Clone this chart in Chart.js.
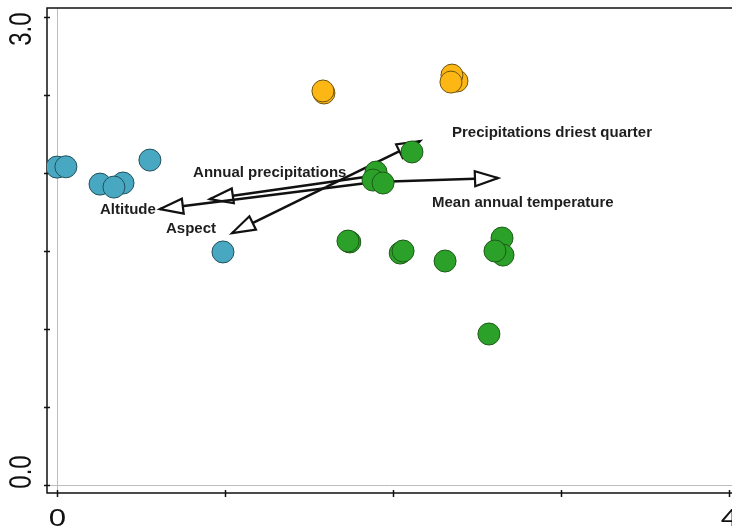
<!DOCTYPE html>
<html>
<head>
<meta charset="utf-8">
<script src="https://cdn.jsdelivr.net/npm/chart.js@4"></script>
<style>
  html, body { margin: 0; padding: 0; background: #fff; }
  #wrap { width: 732px; height: 530px; position: relative; }
</style>
</head>
<body>
<div id="wrap"><canvas id="biplot"></canvas></div>
<script>
// axis ticks
const xTicks = [0, 1, 2, 3, 4];
const xTickLabels = ['0', '', '', '', '4'];
const yTicks = [0, 0.5, 1, 1.5, 2, 2.5, 3];
const yTickLabels = ['0.0', '', '', '', '', '', '3.0'];

// sites, three groups
const blueX = [-0.003, 0.05, 0.55, 0.253, 0.39, 0.336, 0.985];
const blueY = [2.038, 2.04, 2.083, 1.929, 1.936, 1.91, 1.494];
const orangeX = [1.586, 1.58, 2.378, 2.348, 2.342];
const orangeY = [2.513, 2.526, 2.59, 2.628, 2.583];
const greenX = [2.11, 1.896, 1.878, 1.938, 1.74, 1.729, 2.04, 2.057, 2.307, 2.646, 2.652, 2.604, 2.568];
const greenY = [2.135, 2.006, 1.955, 1.936, 1.558, 1.564, 1.487, 1.5, 1.436, 1.583, 1.474, 1.5, 0.968];

// environmental vectors (data units)
const arrowNames = ['Mean annual temperature', 'Altitude', 'Annual precipitations', 'Aspect', 'Precipitations driest quarter'];
const arrowFromX = [1.89, 1.89, 1.872, 1.598, 1.598];
const arrowFromY = [1.942, 1.942, 1.981, 1.91, 1.91];
const arrowToX = [2.622, 0.61, 0.908, 1.039, 2.158];
const arrowToY = [1.968, 1.769, 1.833, 1.615, 2.205];
// where each vector's name sits (left edge, middle)
const labelX = [2.229, 0.253, 0.807, 0.646, 2.348];
const labelY = [1.808, 1.763, 2.0, 1.641, 2.256];

const toPoints = (xs, ys) => xs.map((v, i) => ({ x: v, y: ys[i] }));

const siteStyle = (fill, edge) => ({
    backgroundColor: fill,
    borderColor: edge,
    borderWidth: 1,
    pointRadius: 11,
    order: 0
});

const datasets = [
    Object.assign({ label: 'green', data: toPoints(greenX, greenY) }, siteStyle('#2ba12a', '#1d5a17')),
    Object.assign({ label: 'orange', data: toPoints(orangeX, orangeY) }, siteStyle('#fdb714', '#6e5410')),
    Object.assign({ label: 'blue', data: toPoints(blueX, blueY) }, siteStyle('#48a8c1', '#23505c'))
];

arrowNames.forEach((name, i) => {
    datasets.push({
        label: name,
        isArrow: true,
        data: [{ x: arrowFromX[i], y: arrowFromY[i] }, { x: arrowToX[i], y: arrowToY[i] }],
        showLine: true,
        borderColor: '#111',
        borderWidth: 2.5,
        pointRadius: 0,
        order: 5
    });
});

// open triangle heads, drawn right after each vector so the sites stay on top
const arrowHeads = {
    id: 'arrowHeads',
    afterDatasetDraw(chart, args) {
        const ds = chart.data.datasets[args.index];
        if (!ds.isArrow) return;
        const p0 = args.meta.data[0], p1 = args.meta.data[1];
        const ang = Math.atan2(p1.y - p0.y, p1.x - p0.x);
        const len = 23, half = 7.5;
        const ctx = chart.ctx;
        ctx.save();
        ctx.translate(p1.x, p1.y);
        ctx.rotate(ang);
        ctx.beginPath();
        ctx.moveTo(0, 0);
        ctx.lineTo(-len, -half);
        ctx.lineTo(-len, half);
        ctx.closePath();
        ctx.fillStyle = '#fff';
        ctx.fill();
        ctx.lineWidth = 2.2;
        ctx.lineJoin = 'miter';
        ctx.strokeStyle = '#111';
        ctx.stroke();
        ctx.restore();
    }
};

// box, zero lines, ticks and the few tick labels
const frame = {
    id: 'frame',
    beforeDatasetsDraw(chart) {
        const { ctx, chartArea: a, scales: { x, y } } = chart;
        ctx.save();
        ctx.strokeStyle = '#bdbdbd';
        ctx.lineWidth = 1;
        const x0 = Math.round(x.getPixelForValue(0)) + 0.5;
        const y0 = Math.round(y.getPixelForValue(0)) + 0.5;
        ctx.beginPath();
        ctx.moveTo(x0, a.top); ctx.lineTo(x0, a.bottom);
        ctx.moveTo(a.left, y0); ctx.lineTo(a.right, y0);
        ctx.stroke();

        ctx.strokeStyle = '#111';
        ctx.lineWidth = 1.5;
        ctx.beginPath();
        ctx.moveTo(a.right + 2, a.top);
        ctx.lineTo(a.left, a.top);
        ctx.lineTo(a.left, a.bottom);
        ctx.lineTo(a.right + 2, a.bottom);
        ctx.stroke();

        ctx.beginPath();
        yTicks.forEach(v => {
            const py = Math.round(y.getPixelForValue(v)) + 0.5;
            ctx.moveTo(a.left - 3, py); ctx.lineTo(a.left + 3, py);
        });
        xTicks.forEach(v => {
            const px = Math.round(x.getPixelForValue(v)) + 0.5;
            ctx.moveTo(px, a.bottom - 3); ctx.lineTo(px, a.bottom + 4);
        });
        ctx.stroke();

        ctx.fillStyle = '#111';
        ctx.font = '24px "Liberation Sans", Arial, sans-serif';
        ctx.textAlign = 'center';
        ctx.textBaseline = 'middle';
        xTicks.forEach((v, i) => {
            if (!xTickLabels[i]) return;
            ctx.save();
            ctx.translate(x.getPixelForValue(v), a.bottom + 26);
            ctx.scale(1.3, 1);
            ctx.fillText(xTickLabels[i], 0, 0);
            ctx.restore();
        });
        yTicks.forEach((v, i) => {
            if (!yTickLabels[i]) return;
            const shift = v === yTicks[yTicks.length - 1] ? 12 : -13;
            ctx.save();
            ctx.translate(21, y.getPixelForValue(v) + shift);
            ctx.scale(1.3, 1);
            ctx.rotate(-Math.PI / 2);
            ctx.fillText(yTickLabels[i], 0, 1);
            ctx.restore();
        });
        ctx.restore();
    },
    afterDatasetsDraw(chart) {
        const { ctx, scales: { x, y } } = chart;
        ctx.save();
        ctx.fillStyle = '#1e1e1e';
        ctx.font = 'bold 15px "Liberation Sans", Arial, sans-serif';
        ctx.textAlign = 'left';
        ctx.textBaseline = 'middle';
        arrowNames.forEach((name, i) => {
            ctx.fillText(name, x.getPixelForValue(labelX[i]), y.getPixelForValue(labelY[i]));
        });
        ctx.restore();
    }
};

new Chart(document.getElementById('biplot'), {
    type: 'scatter',
    data: { datasets: datasets },
    options: {
        responsive: true,
        maintainAspectRatio: false,
        animation: false,
        layout: { autoPadding: false, padding: { left: 47, top: 8, right: 0, bottom: 37 } },
        plugins: { legend: { display: false }, tooltip: { enabled: false } },
        scales: {
            x: { type: 'linear', min: -0.0625, max: 4.015, display: false },
            y: { type: 'linear', min: -0.0513, max: 3.058, display: false }
        }
    },
    plugins: [frame, arrowHeads]
});
</script>
</body>
</html>
